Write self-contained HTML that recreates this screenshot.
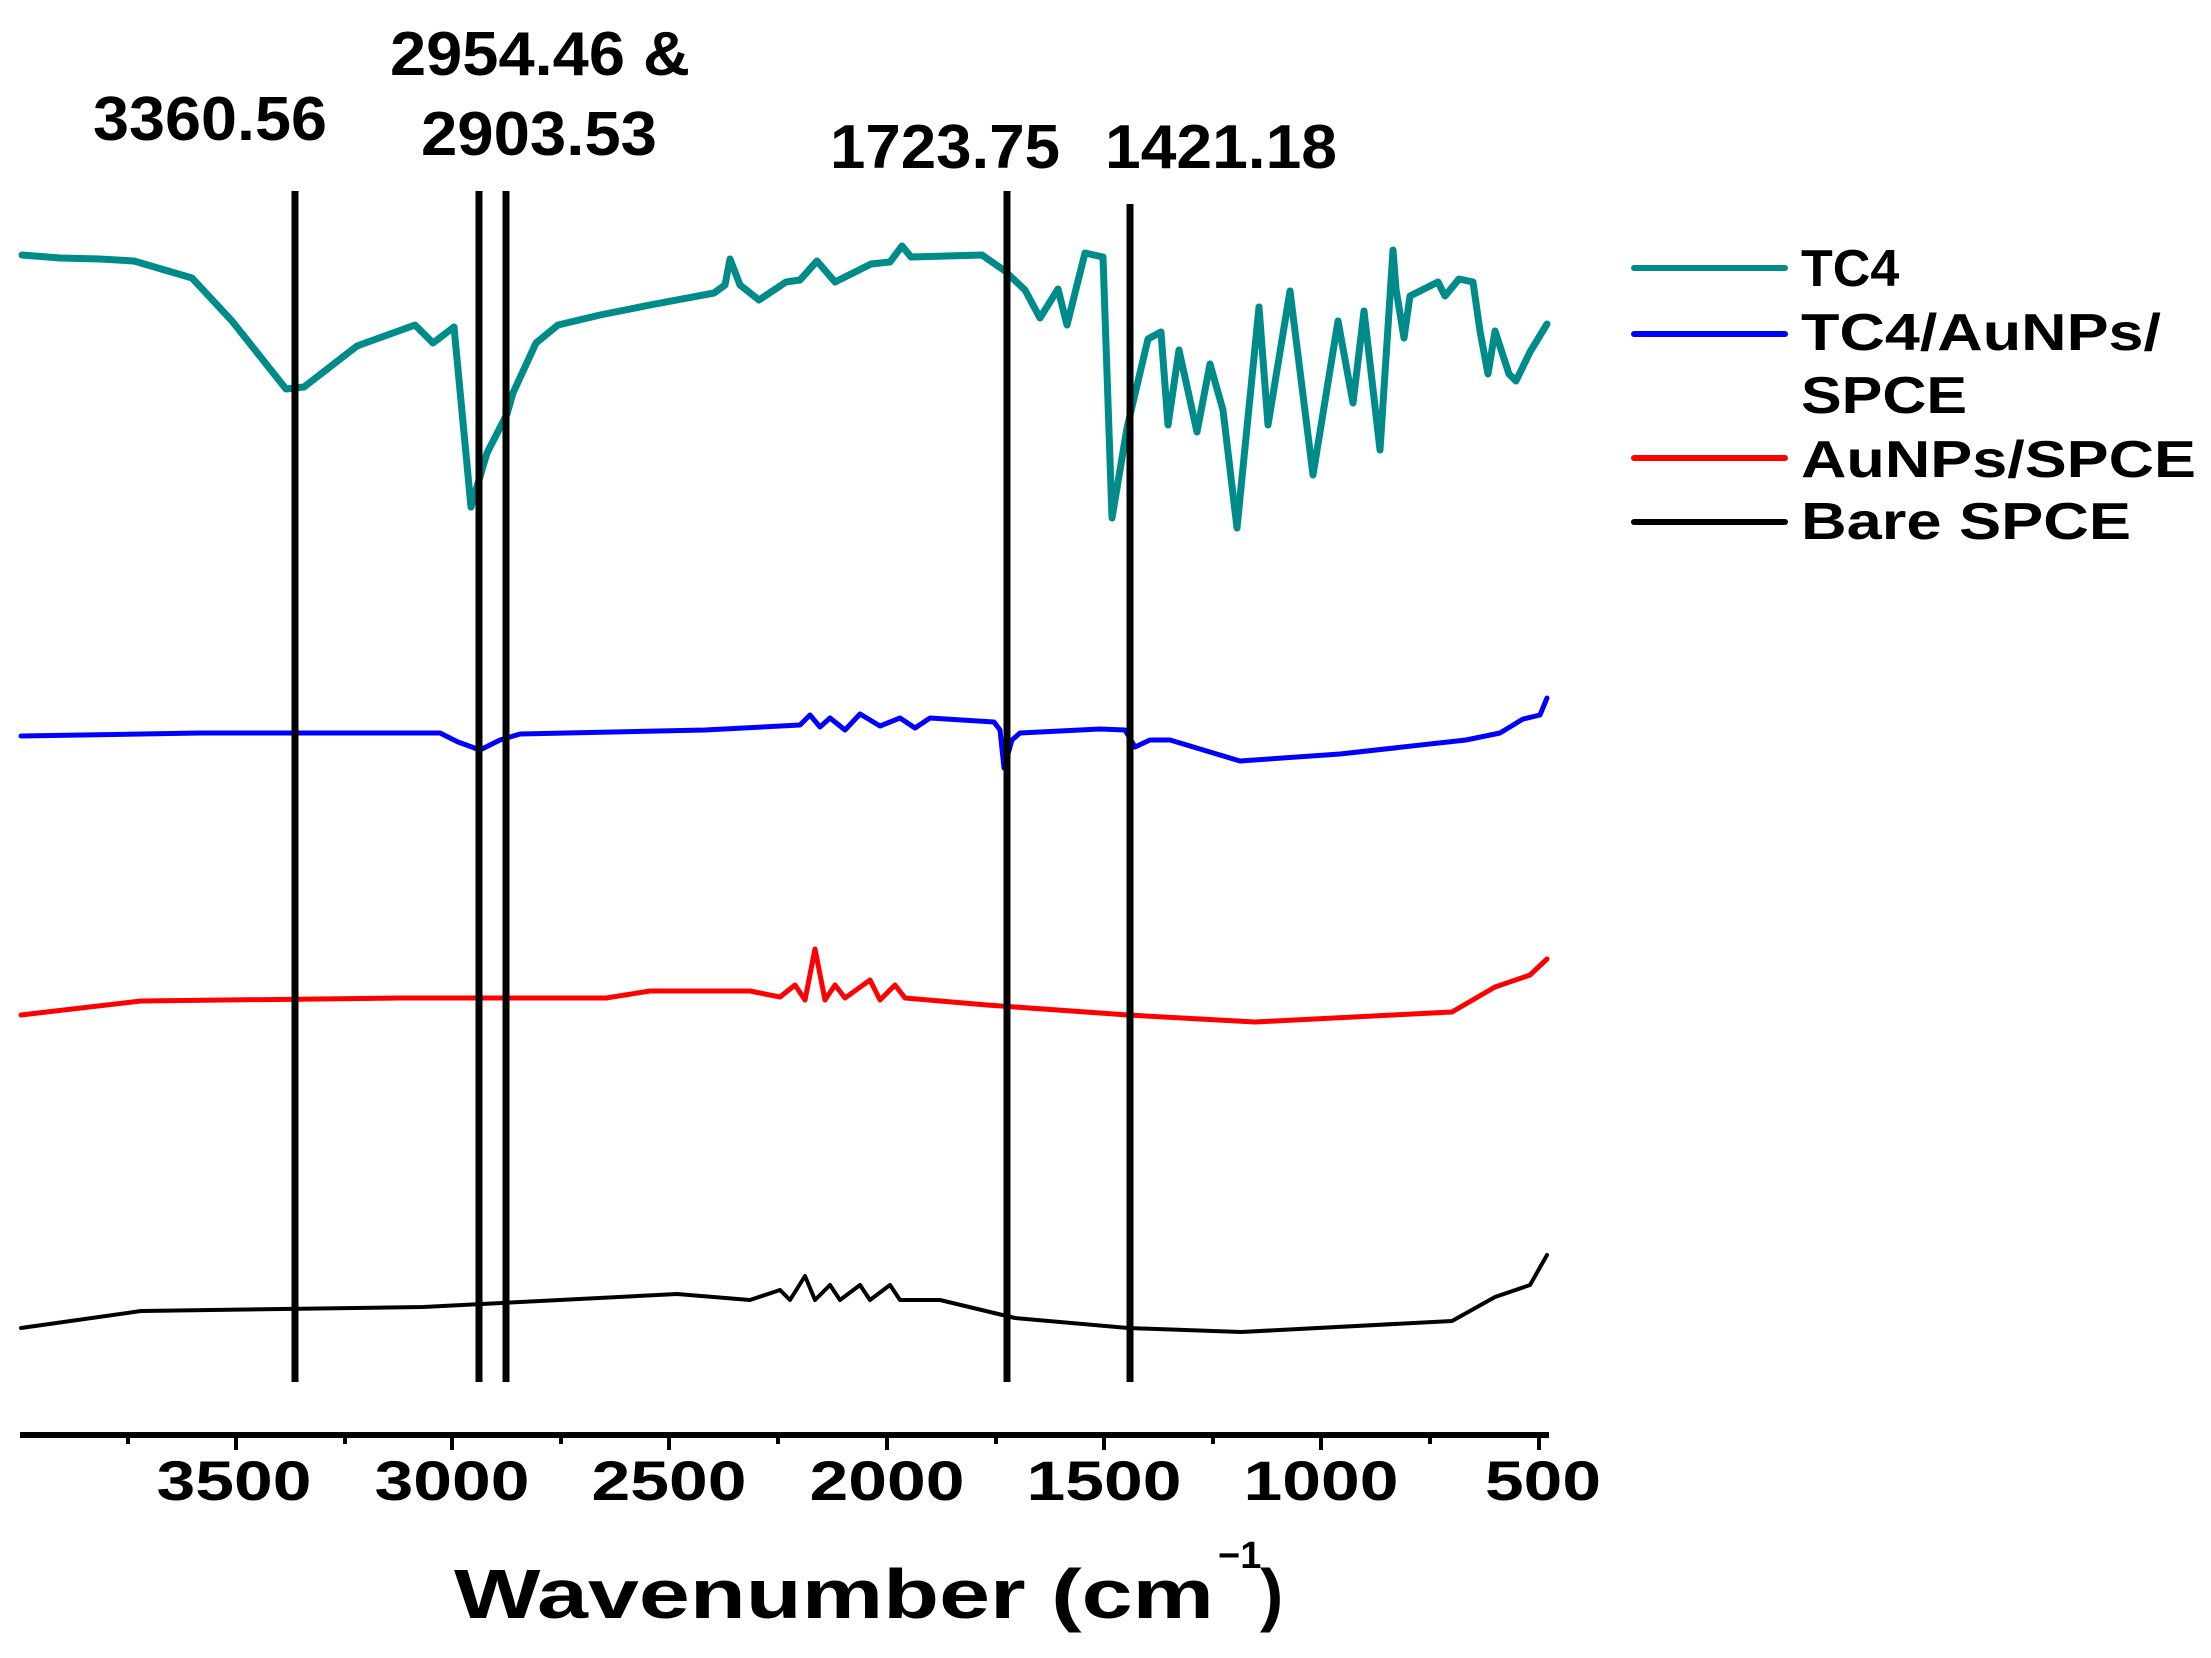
<!DOCTYPE html>
<html><head><meta charset="utf-8"><style>html,body{margin:0;padding:0;background:#fff}svg{display:block}</style></head>
<body>
<svg width="2211" height="1658" viewBox="0 0 2211 1658" xmlns="http://www.w3.org/2000/svg" font-family="Liberation Sans, Arial, sans-serif" font-weight="bold">
<rect width="2211" height="1658" fill="#fff"/>
<g fill="#000" font-size="62">
<text x="93" y="140" textLength="234" lengthAdjust="spacingAndGlyphs">3360.56</text>
<text x="390" y="75" textLength="300" lengthAdjust="spacingAndGlyphs">2954.46 &amp;</text>
<text x="421" y="155" textLength="236" lengthAdjust="spacingAndGlyphs">2903.53</text>
<text x="830" y="168" textLength="230" lengthAdjust="spacingAndGlyphs">1723.75</text>
<text x="1105" y="168" textLength="232" lengthAdjust="spacingAndGlyphs">1421.18</text>
</g>
<g fill="none" stroke-linejoin="round" stroke-linecap="round">
<polyline stroke="#008B8B" stroke-width="7" points="22,255 60,258 100,259 134,261 192,278 232,321 286,389 304,387 357,346 415,325 433,343 454,327 471,507 487,453 507,414 513,393 536,343 558,325 600,315 650,305 714,293 725,285 730,259 740,285 759,300 786,282 800,280 817,261 835,282 871,264 890,262 902,246 911,257 982,255 1005,271 1025,290 1040,318 1058,289 1067,325 1085,253 1103,257 1112,518 1127,428 1148,339 1161,332 1168,425 1179,350 1197,432 1210,364 1223,410 1237,528 1259,307 1268,425 1290,291 1313,475 1338,321 1353,403 1364,311 1380,450 1393,250 1396,289 1404,338 1410,296 1424,289 1438,282 1445,296 1459,279 1473,282 1480,331 1488,374 1495,331 1509,374 1516,381 1530,352 1547,324"/>
<polyline stroke="#0000FF" stroke-width="5" points="21,736 200,733 440,733 458,742 480,750 500,740 520,734 705,730 800,725 810,715 820,727 830,718 845,730 860,714 880,726 900,718 915,728 930,718 994,722 1000,730 1004,768 1012,740 1020,733 1100,729 1125,730 1135,747 1150,740 1170,740 1240,761 1340,754 1466,740 1500,733 1523,719 1540,715 1547,698"/>
<polyline stroke="#FF0000" stroke-width="5" points="21,1015 141,1001 400,998 606,998 650,991 750,991 780,997 795,985 805,1000 815,949 825,1000 835,985 845,998 870,980 880,1000 895,985 905,998 987,1005 1128,1015 1255,1022 1452,1012 1495,987 1530,975 1547,959"/>
<polyline stroke="#000000" stroke-width="4" points="21,1328 141,1311 423,1307 677,1294 750,1300 780,1290 790,1300 805,1276 815,1300 830,1285 840,1300 860,1285 870,1300 890,1285 900,1300 940,1300 1015,1318 1128,1328 1241,1332 1452,1321 1495,1297 1530,1285 1547,1255"/>
</g>
<g stroke="#000" stroke-width="7">
<line x1="295" y1="191" x2="295" y2="1382"/>
<line x1="479" y1="191" x2="479" y2="1382"/>
<line x1="506" y1="191" x2="506" y2="1382"/>
<line x1="1007" y1="191" x2="1007" y2="1382"/>
<line x1="1130" y1="204" x2="1130" y2="1382"/>
</g>
<line x1="20" y1="1435" x2="1549" y2="1435" stroke="#000" stroke-width="6"/>
<g stroke="#000" stroke-width="4">
<line x1="128" y1="1435" x2="128" y2="1444"/><line x1="236" y1="1435" x2="236" y2="1450"/>
<line x1="345" y1="1435" x2="345" y2="1444"/><line x1="452" y1="1435" x2="452" y2="1450"/>
<line x1="561" y1="1435" x2="561" y2="1444"/><line x1="669" y1="1435" x2="669" y2="1450"/>
<line x1="778" y1="1435" x2="778" y2="1444"/><line x1="887" y1="1435" x2="887" y2="1450"/>
<line x1="996" y1="1435" x2="996" y2="1444"/><line x1="1104" y1="1435" x2="1104" y2="1450"/>
<line x1="1213" y1="1435" x2="1213" y2="1444"/><line x1="1321" y1="1435" x2="1321" y2="1450"/>
<line x1="1430" y1="1435" x2="1430" y2="1444"/><line x1="1539" y1="1435" x2="1539" y2="1450"/>
</g>
<g fill="#000" font-size="56" text-anchor="middle">
<text x="234" y="1500" textLength="155" lengthAdjust="spacingAndGlyphs">3500</text>
<text x="452" y="1500" textLength="155" lengthAdjust="spacingAndGlyphs">3000</text>
<text x="669" y="1500" textLength="155" lengthAdjust="spacingAndGlyphs">2500</text>
<text x="887" y="1500" textLength="155" lengthAdjust="spacingAndGlyphs">2000</text>
<text x="1104" y="1500" textLength="155" lengthAdjust="spacingAndGlyphs">1500</text>
<text x="1321" y="1500" textLength="155" lengthAdjust="spacingAndGlyphs">1000</text>
<text x="1543" y="1500" textLength="116" lengthAdjust="spacingAndGlyphs">500</text>
</g>
<text x="454" y="1618" font-size="70" fill="#000" textLength="760" lengthAdjust="spacingAndGlyphs">Wavenumber (cm</text>
<text x="1218" y="1568" font-size="38" fill="#000">−1</text>
<text x="1260" y="1618" font-size="70" fill="#000">)</text>
<g stroke-width="6" stroke-linecap="round">
<line x1="1634" y1="268" x2="1785" y2="268" stroke="#008B8B"/>
<line x1="1634" y1="334" x2="1785" y2="334" stroke="#0000FF"/>
<line x1="1634" y1="458" x2="1785" y2="458" stroke="#FF0000"/>
<line x1="1634" y1="522" x2="1785" y2="522" stroke="#000"/>
</g>
<g fill="#000" font-size="52">
<text x="1801" y="286">TC4</text>
<text x="1801" y="350" textLength="360" lengthAdjust="spacingAndGlyphs">TC4/AuNPs/</text>
<text x="1801" y="413" textLength="166" lengthAdjust="spacingAndGlyphs">SPCE</text>
<text x="1801" y="477" textLength="395" lengthAdjust="spacingAndGlyphs">AuNPs/SPCE</text>
<text x="1801" y="539" textLength="330" lengthAdjust="spacingAndGlyphs">Bare SPCE</text>
</g>
</svg>
</body></html>
